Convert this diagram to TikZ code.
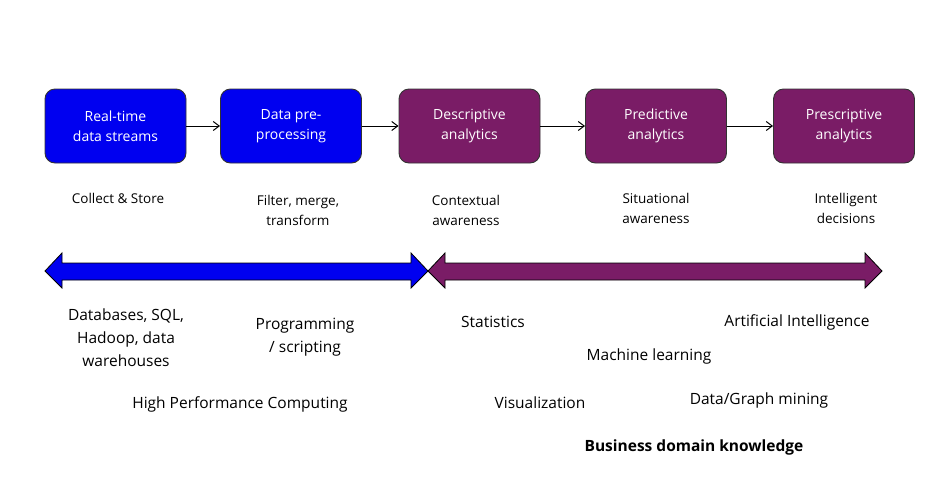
\documentclass[tikz,border=0pt]{standalone}
\usepackage{fontspec}
\setmainfont{Open Sans}
\usetikzlibrary{arrows.meta}
\definecolor{bblue}{HTML}{0000F0}
\definecolor{ppurp}{HTML}{7A1C66}
\begin{document}
\begin{tikzpicture}[x=1pt,y=-1pt,
 box/.style={draw=black!80,line width=0.9pt,rounded corners=10pt,minimum width=141pt,minimum height=74pt,text=white,align=center,font=\fontsize{14}{20}\selectfont},
 lab/.style={align=center,font=\fontsize{13.5}{20}\selectfont},
 big/.style={align=center,font=\fontsize{15.5}{23}\selectfont},
 conn/.style={-{Straight Barb[length=6pt,width=9pt]},line width=1pt}]
\useasboundingbox (0,0) rectangle (930,496);
\node[box,fill=bblue] (b1) at (115.5,126) {Real-time\\data streams};
\node[box,fill=bblue] (b2) at (291,126) {Data pre-\\processing};
\node[box,fill=ppurp] (b3) at (469.5,126) {Descriptive\\analytics};
\node[box,fill=ppurp] (b4) at (656,126) {Predictive\\analytics};
\node[box,fill=ppurp] (b5) at (844,126) {Prescriptive\\analytics};
\draw[conn] (b1)--(b2); \draw[conn] (b2)--(b3); \draw[conn] (b3)--(b4); \draw[conn] (b4)--(b5);
\node[lab] (l1) at (118,198) {Collect \& Store};
\node[lab] (l2) at (298,210) {Filter, merge,\\transform};
\node[lab] (l3) at (466,210) {Contextual\\awareness};
\node[lab] (l4) at (656,208) {Situational\\awareness};
\node[lab] (l5) at (846,208) {Intelligent\\decisions};
\draw[fill=bblue,line width=0.8pt] (45,271)--(62,253)--(62,263)--(411,263)--(411,253)--(428,271)--(411,288)--(411,280)--(62,280)--(62,288)--cycle;
\draw[fill=ppurp,line width=0.8pt] (428,271)--(445,253)--(445,263)--(865,263)--(865,253)--(882,271)--(865,288)--(865,280)--(445,280)--(445,288)--cycle;
\node[big] (t1) at (126,338) {Databases, SQL,\\Hadoop, data\\warehouses};
\node[big] (t2) at (305,337) {Programming\\/ scripting};
\node[big] (t3) at (493,322) {Statistics};
\node[big] (t4) at (797,322) {Artificial Intelligence};
\node[big] (t5) at (649,356) {Machine learning};
\node[big] (t6) at (240,404) {High Performance Computing};
\node[big] (t7) at (540,403) {Visualization};
\node[big] (t8) at (759,400) {Data/Graph mining};
\node[big,font=\bfseries\fontsize{15.5}{23}\selectfont] (t9) at (694,447) {Business domain knowledge};
\end{tikzpicture}
\end{document}
